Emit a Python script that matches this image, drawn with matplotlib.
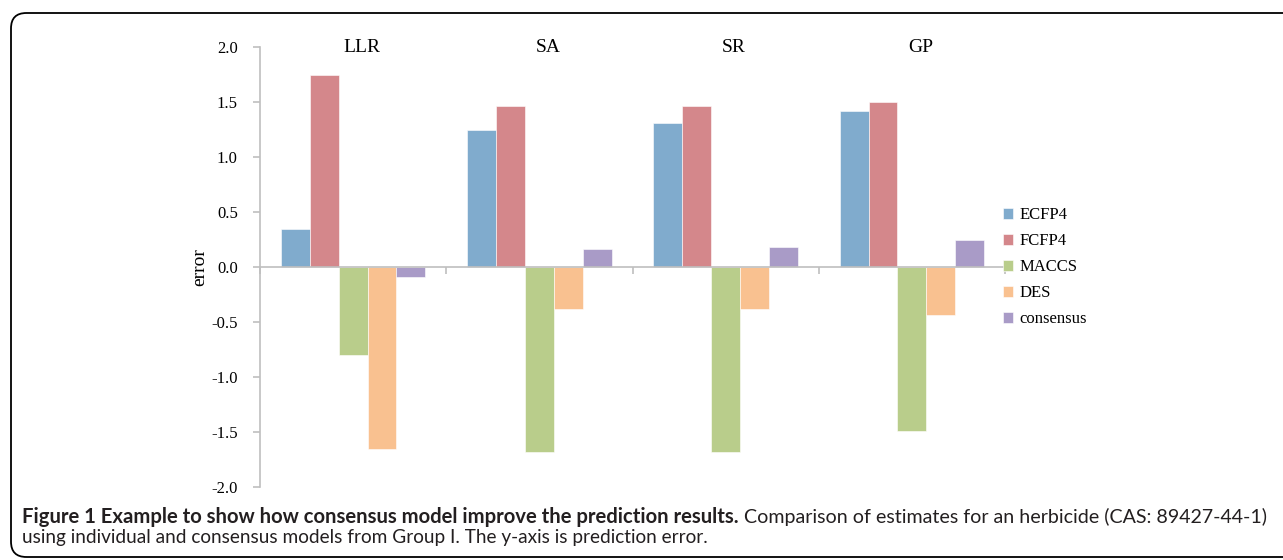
import matplotlib
matplotlib.use("Agg")
import matplotlib.pyplot as plt
import numpy as np
from matplotlib.patches import FancyBboxPatch

categories = ["LLR", "SA", "SR", "GP"]
series = ["ECFP4", "FCFP4", "MACCS", "DES", "consensus"]
ecfp4 = [0.35, 1.25, 1.31, 1.42]
fcfp4 = [1.75, 1.46, 1.46, 1.50]
maccs = [-0.80, -1.68, -1.68, -1.49]
des = [-1.65, -0.38, -0.38, -0.44]
consensus = [-0.09, 0.16, 0.18, 0.25]
yticks = [-2.0, -1.5, -1.0, -0.5, 0.0, 0.5, 1.0, 1.5, 2.0]
colors = ["#80abcd", "#d4878b", "#b9cd8b", "#f9c190", "#a99bc7"]

values = [ecfp4, fcfp4, maccs, des, consensus]

W, H = 1283, 560
fig = plt.figure(figsize=(W / 100, H / 100), dpi=100)
serif = ["Liberation Serif", "DejaVu Serif"]

ax = fig.add_axes([260 / W, 1 - 487 / H, (1005 - 260) / W, (487 - 47) / H])
x = np.arange(len(categories))
bw = 0.155
for i, (name, vals) in enumerate(zip(series, values)):
    ax.bar(x + (i - 2) * bw, vals, width=bw, color=colors[i], label=name,
           edgecolor="white", linewidth=0.4)

ax.set_xlim(-0.5, len(categories) - 0.5)
ax.set_ylim(-2.0, 2.0)
ax.set_yticks(yticks)
ax.set_yticklabels([f"{v:.1f}" for v in yticks], family=serif, fontsize=12)
ax.set_xticks(np.arange(len(categories) + 1) - 0.5)
ax.set_xticklabels([])
for s in ["top", "right"]:
    ax.spines[s].set_visible(False)
ax.spines["bottom"].set_position(("data", 0))
for s in ["left", "bottom"]:
    ax.spines[s].set_color("#bfbfbf")
    ax.spines[s].set_linewidth(1.2)
ax.tick_params(axis="both", direction="out", color="#bfbfbf", length=5, width=1.2)
ax.tick_params(axis="y", pad=11)
ax.set_ylabel("error", family=serif, fontsize=14)
ax.yaxis.set_label_coords(-0.07, 0.5)

for xi, c in zip(x, categories):
    ax.text(xi + 0.045, 2.0, c, ha="center", va="center", family=serif, fontsize=14,
            transform=ax.transData)

leg = fig.legend(loc="upper left", bbox_to_anchor=(995 / W, 1 - 199 / H),
                 frameon=False, prop={"family": serif, "size": 12},
                 handlelength=0.6, handleheight=0.6, handletextpad=0.35,
                 labelspacing=0.6, borderpad=0)

# border
border = FancyBboxPatch((11 / W, 1 - 557 / H), (1300 - 11) / W, (557 - 13) / H,
                        boxstyle="round,pad=0,rounding_size=0.012",
                        transform=fig.transFigure, fill=False,
                        edgecolor="black", linewidth=1.3, clip_on=False,
                        mutation_aspect=W / H)
fig.patches.append(border)

# caption
cap_font = ["Lato", "DejaVu Sans"]
bold_txt = "Figure 1 Example to show how consensus model improve the prediction results."
reg_txt = " Comparison of estimates for an herbicide (CAS: 89427-44-1)"
line2 = "using individual and consensus models from Group I. The y-axis is prediction error."
y1 = 1 - 517 / H
y2 = 1 - 538 / H
r = fig.canvas.get_renderer()
t1 = fig.text(22 / W, y1, bold_txt, fontsize=14.6, fontweight="bold", family=cap_font,
              va="center", ha="left", color="#231f20")
bb = t1.get_window_extent(renderer=r)
t2 = fig.text(bb.x1 / W, y1, reg_txt, fontsize=14.1, family=cap_font, va="center",
              ha="left", color="#231f20")
t3 = fig.text(22 / W, y2, line2, fontsize=13.7, family=cap_font, va="center",
              ha="left", color="#231f20")

fig.savefig("out.png", dpi=100)
